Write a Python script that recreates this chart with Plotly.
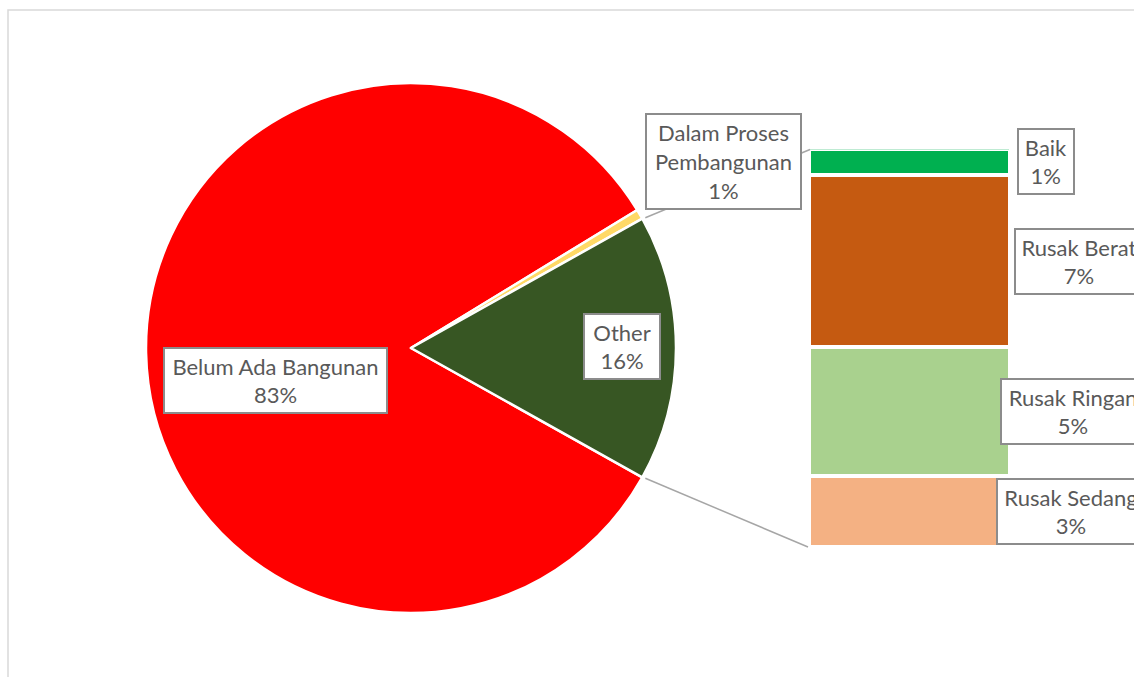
import math
import plotly.graph_objects as go

W, H = 1134, 677

# pie data
pie_labels = ["Belum Ada Bangunan", "Dalam Proses Pembangunan", "Other"]
pie_colors = ["#FF0000", "#FFD966", "#375623"]
belum = 82.8
dalam = 0.6

# breakdown of "Other" (bar of pie)
bar_labels = ["Rusak Sedang", "Rusak Ringan", "Rusak Berat", "Baik"]
bar_values = [2.85, 5.25, 7.0, 1.05]
bar_colors = ["#F4B183", "#A9D18E", "#C55A11", "#00B050"]

other = sum(bar_values)
pie_values = [belum, dalam, other]
total = sum(pie_values)

# geometry (pixels)
cx, cy, r = 411, 348, 265
bar_x0, bar_x1 = 810, 1010
bar_top, bar_bot = 149.5, 547

def px(x):
    return x / W

def py(y):
    return 1 - y / H

other_deg = 360 * other / total

fig = go.Figure()
fig.add_trace(go.Pie(
    labels=pie_labels,
    values=pie_values,
    sort=False,
    direction="clockwise",
    rotation=90 + other_deg / 2,
    marker={"colors": pie_colors, "line": {"color": "white", "width": 2.5}},
    textinfo="none",
    hoverinfo="label+percent",
    domain={"x": [px(cx - r), px(cx + r)], "y": [py(cy + r), py(cy - r)]},
    showlegend=False,
))

for lab, val, col in zip(bar_labels, bar_values, bar_colors):
    fig.add_trace(go.Bar(
        x=[0], y=[val], name=lab, width=1,
        marker={"color": col, "line": {"color": "white", "width": 3.5}},
        xaxis="x2", yaxis="y2", showlegend=False,
        hovertemplate=lab + ": %{y}<extra></extra>",
    ))

# series lines from the "Other" slice to the bar
half = math.radians(other_deg / 2)
ux, uy = cx + r * math.cos(half), cy - r * math.sin(half)
lx, ly = cx + r * math.cos(half), cy + r * math.sin(half)
shapes = [
    dict(type="rect", xref="paper", yref="paper", x0=px(8), x1=1.05, y0=-0.05, y1=py(10),
         line={"color": "#D9D9D9", "width": 1.5}, layer="below"),
    dict(type="line", xref="paper", yref="paper", x0=px(ux + 3), y0=py(uy - 1), x1=px(bar_x0), y1=py(bar_top),
         line={"color": "#A6A6A6", "width": 1.5}),
    dict(type="line", xref="paper", yref="paper", x0=px(lx + 3), y0=py(ly + 1), x1=px(bar_x0 - 2), y1=py(bar_bot),
         line={"color": "#A6A6A6", "width": 1.5}),
]

def pct(v):
    return f"{round(100 * v / total)}%"

# label boxes: (text, center x, center y, width, height)
boxes = [
    (f"{pie_labels[0]}<br>{pct(belum)}", 275.5, 380.5, 225, 67),
    (f"Other<br>{pct(other)}", 622, 346.5, 78, 67),
    (f"Dalam Proses<br>Pembangunan<br>{pct(dalam)}", 723.5, 161.5, 157, 97),
    (f"{bar_labels[3]}<br>{pct(bar_values[3])}", 1046, 161.5, 58, 67),
    (f"{bar_labels[2]}<br>{pct(bar_values[2])}", 1079, 261.5, 130, 67),
    (f"{bar_labels[1]}<br>{pct(bar_values[1])}", 1073, 411.5, 146, 67),
    (f"{bar_labels[0]}<br>{pct(bar_values[0])}", 1071, 511.5, 150, 67),
]
annotations = []
for text, x, y, w, h in boxes:
    annotations.append(dict(
        text=text, x=px(x), y=py(y), xref="paper", yref="paper",
        xanchor="center", yanchor="middle", showarrow=False,
        width=w - 4, height=h - 4, borderpad=0, borderwidth=2,
        bordercolor="#8C8C8C", bgcolor="white",
        font={"family": "Lato", "size": 22, "color": "#595959"},
    ))

fig.update_layout(
    width=W, height=H,
    margin={"l": 0, "r": 0, "t": 0, "b": 0},
    paper_bgcolor="white", plot_bgcolor="rgba(0,0,0,0)",
    barmode="stack", bargap=0,
    xaxis2={"domain": [px(bar_x0), px(bar_x1)], "range": [-0.5, 0.5], "visible": False,
            "anchor": "y2", "fixedrange": True},
    yaxis2={"domain": [py(bar_bot), py(bar_top)], "range": [0, other], "visible": False,
            "anchor": "x2", "fixedrange": True},
    shapes=shapes,
    annotations=annotations,
)

fig.write_html("out.html", config={"displayModeBar": False},
               post_script="document.body.style.margin = '0';")
